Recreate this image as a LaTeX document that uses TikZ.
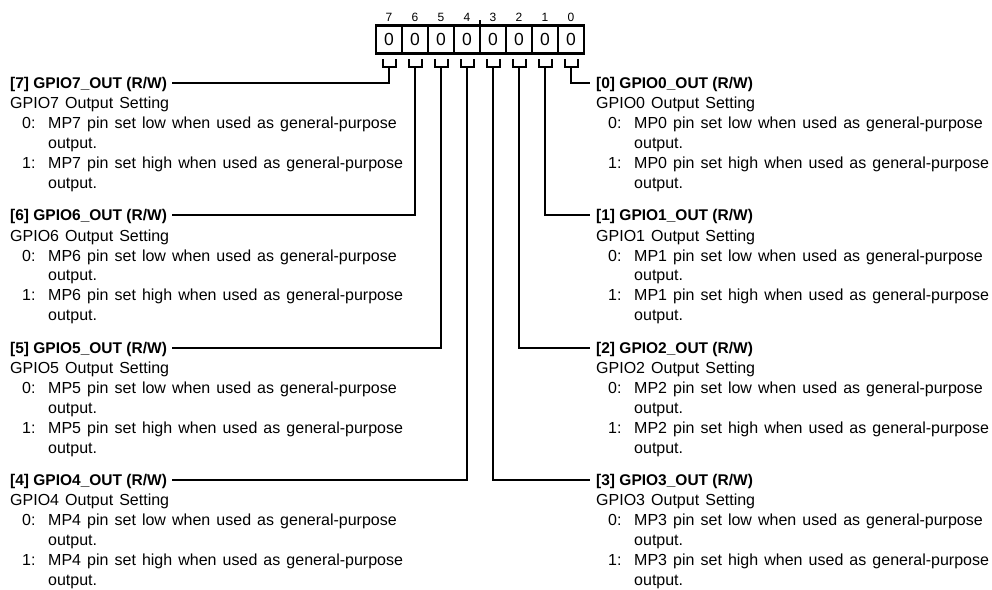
\documentclass[tikz,border=0pt]{standalone}
\usepackage{fontspec}
\setmainfont{Liberation Sans}
\newfontfamily\descfam{Liberation Sans}[WordSpace=1.37]
\usetikzlibrary{calc}
\newcommand\desctext[1]{\rule{0pt}{12pt}GPIO#1 Output Setting\\
\hspace*{12pt}\makebox[26pt][l]{0:}MP#1 pin set low when used as general-purpose\\
\hspace*{38pt}output.\\
\hspace*{12pt}\makebox[26pt][l]{1:}MP#1 pin set high when used as general-purpose\\
\hspace*{38pt}output.}
\begin{document}
\begin{tikzpicture}[x=1pt,y=-1pt,
 ttl/.style={font=\fontsize{15.5}{19.9}\selectfont\bfseries, inner sep=0pt, text height=11.2pt, text depth=0pt, anchor=west},
 dsc/.style={font=\descfam\fontsize{16}{19.9}\selectfont, inner sep=0pt, align=left, anchor=north west},
 cell/.style={draw, line width=2.6pt, minimum width=26pt, minimum height=28pt, inner sep=0pt, outer sep=0pt, font=\fontsize{17.5}{19}\selectfont},
 bitno/.style={font=\fontsize{12}{12}\selectfont, inner sep=0pt, anchor=base},
 wire/.style={line width=2pt},
]
\useasboundingbox[fill=white] (0,0) rectangle (992,589);
\foreach \k in {0,...,7} {
 \pgfmathsetmacro\cx{389+26*(7-\k)}
 \node[cell] (c\k) at (\cx,39.3) {\raisebox{-1.2pt}{0}};
 \node[bitno] (n\k) at (\cx,21) {\k};
 \draw[wire] (\cx-6.5,59) -- (\cx-6.5,67) -- (\cx+6.5,67) -- (\cx+6.5,59);
 \coordinate (s\k) at (\cx,67);
}
\draw[line width=2pt] ($(c4.north east)!0.5!(c3.north west)$) -- ++(0,-5.5);
\foreach \k/\Y in {7/83,6/215.3,5/347.6,4/480} {
 \node[ttl] (t\k) at (10,\Y) {[\k] GPIO\k\_OUT (R/W)};
 \node[dsc] (d\k) at (10,\Y+13.65) {\desctext{\k}};
 \draw[wire] ([xshift=5pt]t\k.east) -| (s\k);
}
\foreach \k/\Y in {0/83,1/215.3,2/347.6,3/480} {
 \node[ttl] (t\k) at (596,\Y) {[\k] GPIO\k\_OUT (R/W)};
 \node[dsc] (d\k) at (596,\Y+13.65) {\desctext{\k}};
 \draw[wire] (s\k) |- ([xshift=-6pt]t\k.west);
}
\end{tikzpicture}
\end{document}
